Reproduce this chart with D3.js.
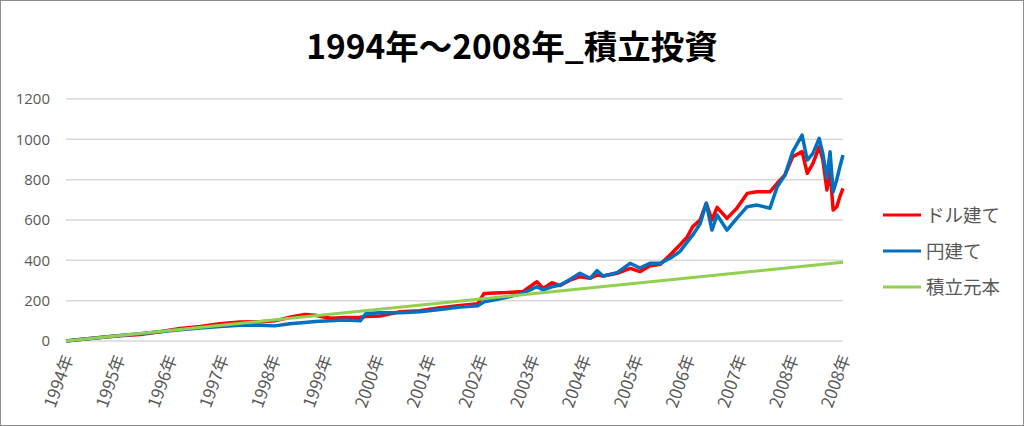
<!DOCTYPE html>
<html><head><meta charset="utf-8">
<script src="https://cdn.jsdelivr.net/npm/d3@7"></script>
<style>
html,body{margin:0;padding:0;background:#fff;}
svg{display:block;}
text{font-family:"Noto Sans CJK JP","Noto Sans",sans-serif;}
</style></head>
<body>
<script>
const title = "1994年～2008年_積立投資";
const xLabels = ["1994年","1995年","1996年","1997年","1998年","1999年","2000年","2001年","2002年","2003年","2004年","2005年","2006年","2007年","2008年","2008年"];
const yTicks = [0,200,400,600,800,1000,1200];
const seriesNames = ["ドル建て","円建て","積立元本"];
const seriesColors = ["#FF0000","#0070C0","#92D050"];

// position along the category axis (in label steps)
const pos = [0,0.27,0.66,1.04,1.43,1.81,2.20,2.59,2.97,3.36,3.75,4.03,4.32,4.61,4.81,5.10,5.39,5.68,5.79,6.06,6.45,6.83,7.22,7.61,7.95,8.07,8.28,8.51,8.82,9.09,9.21,9.38,9.54,9.73,9.92,10.12,10.25,10.37,10.64,10.89,11.08,11.27,11.47,11.66,11.85,11.99,12.10,12.24,12.36,12.47,12.57,12.76,12.95,13.15,13.34,13.59,13.73,13.88,14.03,14.21,14.31,14.42,14.54,14.61,14.69,14.75,14.81,14.88,14.94,15.00];
const dollarValues = [0,7,17,26,32,46,62,72,86,94,96,100,118,132,128,113,116,118,122,124,145,150,165,176,185,236,238,240,245,294,261,289,275,302,319,311,327,322,336,360,344,372,380,426,476,515,567,600,683,600,663,608,658,732,740,740,782,823,914,939,831,881,963,900,749,848,649,666,716,757];
const yenValues    = [0,7,17,27,36,46,56,64,72,78,78,75,86,92,97,100,104,100,136,140,140,145,156,168,175,195,205,217,236,269,253,269,278,305,336,311,349,322,339,385,362,385,385,410,443,490,526,580,683,550,625,550,608,666,674,658,765,823,939,1021,897,930,1005,930,807,939,740,800,864,922];
const principalPos = [0,1,2,3,4,5,6,7,8,9,10,11,12,13,14,15];
const principalValues = [0,26,52,78,104,130,156,182,208,234,260,286,312,338,364,390];

const W = 1024, H = 426;
const svg = d3.select("body").append("svg").attr("width", W).attr("height", H);
svg.append("rect").attr("x",0.5).attr("y",0.5).attr("width",W-1).attr("height",H-1)
  .attr("fill","#fff").attr("stroke","#8c8c8c").attr("stroke-width",1);

const x = d3.scaleLinear().domain([0, 15]).range([66, 843]);
const y = d3.scaleLinear().domain([0, 1200]).range([341, 99]);

svg.append("text").attr("x", 512).attr("y", 59).attr("text-anchor","middle")
  .attr("font-size", 33.5).attr("font-weight","bold").attr("fill","#000").text(title);

// gridlines
svg.append("g").selectAll("line").data(yTicks).join("line")
  .attr("x1", x(0)).attr("x2", x(15))
  .attr("y1", d => y(d)).attr("y2", d => y(d))
  .attr("stroke","#d9d9d9").attr("stroke-width",1.5);

// y axis
const gy = svg.append("g").attr("transform", `translate(${x(0)},0)`)
  .call(d3.axisLeft(y).tickValues(yTicks).tickFormat(d3.format("d")).tickSize(0).tickPadding(16));
gy.select(".domain").remove();
gy.selectAll("text").attr("font-size", 15).attr("fill","#595959")
  .style("font-family",'"Open Sans","Noto Sans",sans-serif');

// x axis
const gx = svg.append("g").attr("transform", `translate(0,${y(0)})`)
  .call(d3.axisBottom(x).tickValues(d3.range(xLabels.length)).tickFormat(i => xLabels[i]).tickSize(0));
gx.select(".domain").remove();
gx.selectAll("text").attr("font-size", 17).attr("fill","#595959")
  .attr("text-anchor","end").attr("dy", null).attr("y", 0)
  .attr("transform","translate(3,15) rotate(-70)")
  .attr("dominant-baseline","middle");

const line = d3.line().x(d => x(d[0])).y(d => y(d[1]));
const dollar = pos.map((p,i) => [p, dollarValues[i]]);
const yen = pos.map((p,i) => [p, yenValues[i]]);
const principal = principalPos.map((p,i) => [p, principalValues[i]]);

[[dollar,0],[yen,1],[principal,2]].forEach(([data,k]) => {
  svg.append("path").datum(data).attr("d", line)
    .attr("fill","none").attr("stroke", seriesColors[k]).attr("stroke-width", k === 2 ? 3 : 3.5)
    .attr("stroke-linejoin","round");
});

// legend
const legY = [215, 251, 287];
const lg = svg.append("g");
seriesNames.forEach((n,i) => {
  lg.append("line").attr("x1",883).attr("x2",921).attr("y1",legY[i]).attr("y2",legY[i])
    .attr("stroke", seriesColors[i]).attr("stroke-width",3);
  lg.append("text").attr("x",926).attr("y",legY[i]).attr("dy","0.36em")
    .attr("font-size",18.5).attr("fill","#595959").text(n);
});
</script>
</body></html>
